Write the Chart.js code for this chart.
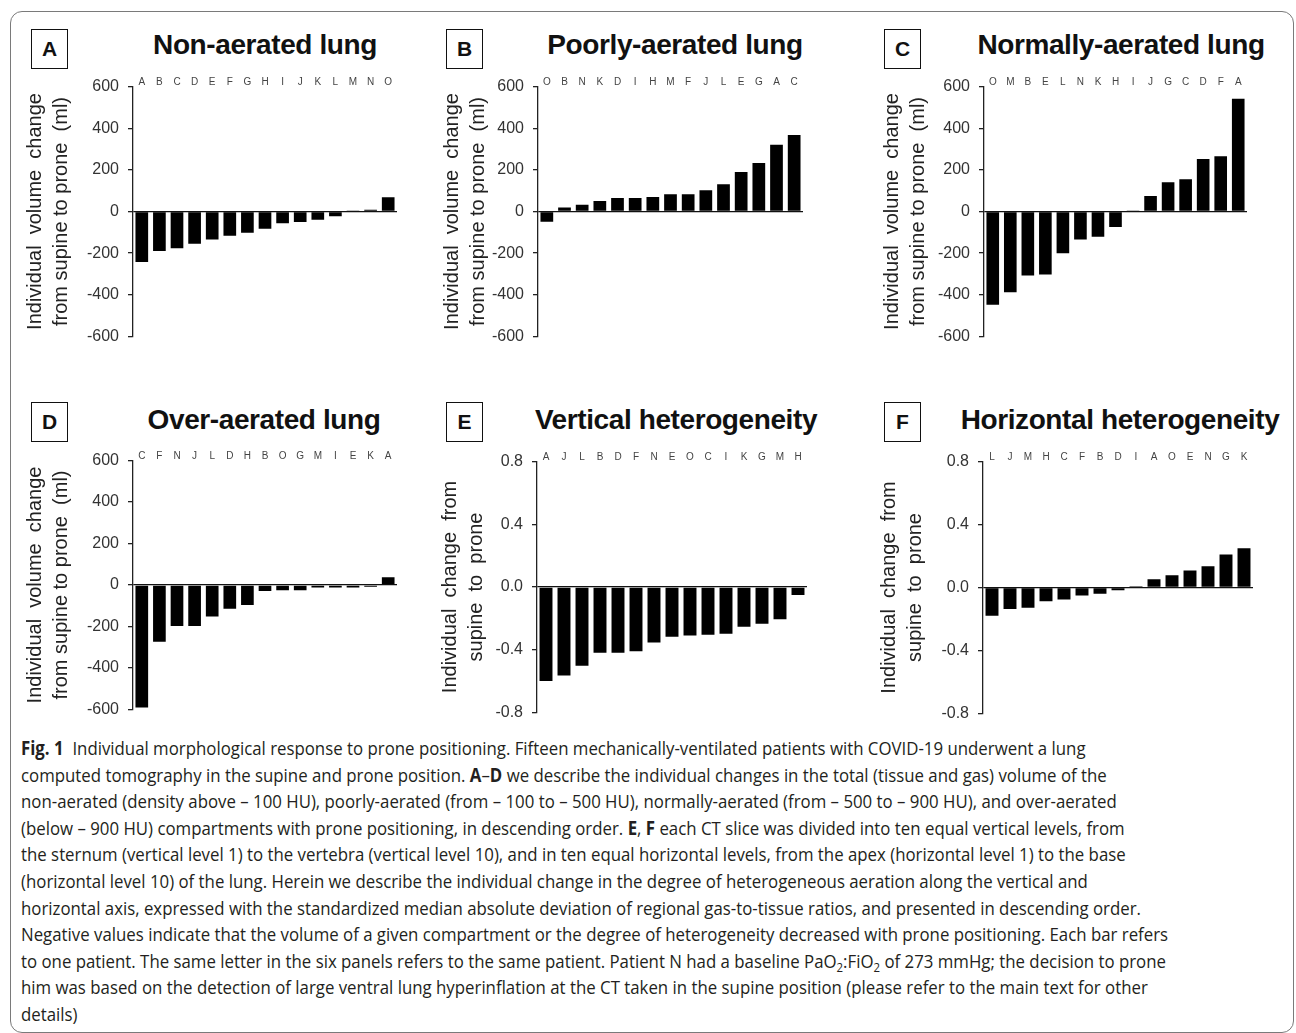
<!DOCTYPE html>
<html>
<head>
<meta charset="utf-8">
<script src="https://cdn.jsdelivr.net/npm/chart.js@4.4.1/dist/chart.umd.min.js"></script>
<style>
  body { margin: 0; background: #fff; width: 1296px; height: 1033px; overflow: hidden; position: relative;
         font-family: Arial, "Liberation Sans", sans-serif; }
  .frame { position: absolute; left: 10px; top: 11px; width: 1284px; height: 1022px;
           border: 1px solid #7a7a7a; border-radius: 12px; box-sizing: border-box; }
  .wrap { position: absolute; }
  .tag { position: absolute; width: 37px; height: 40px; border: 1.5px solid #111; box-sizing: border-box;
         font-weight: bold; font-size: 21px; display: flex; align-items: center; justify-content: center; color: #111; }
  .title { position: absolute; font-weight: bold; font-size: 28px; transform: translate(-50%, -50%);
           white-space: nowrap; letter-spacing: -0.4px; color: #111; }
  .caption { position: absolute; left: 21px; top: 735px; font-family: "Open Sans", sans-serif; font-size: 19px;
             line-height: 26.6px; color: #231f20; white-space: nowrap; transform: scaleX(0.885); transform-origin: 0 0; }
  .caption sub { font-size: 0.68em; vertical-align: -0.3em; line-height: 0; }
</style>
</head>
<body>
<div class="frame"></div>

<div class="tag" style="left:31px;top:29px">A</div>
<div class="tag" style="left:446px;top:29px">B</div>
<div class="tag" style="left:884px;top:29px">C</div>
<div class="tag" style="left:31px;top:402px">D</div>
<div class="tag" style="left:446px;top:402px">E</div>
<div class="tag" style="left:884px;top:402px">F</div>

<div class="title" style="left:265px;top:45px">Non-aerated lung</div>
<div class="title" style="left:675px;top:45px">Poorly-aerated lung</div>
<div class="title" style="left:1121px;top:45px">Normally-aerated lung</div>
<div class="title" style="left:264px;top:420px">Over-aerated lung</div>
<div class="title" style="left:676px;top:420px">Vertical heterogeneity</div>
<div class="title" style="left:1120px;top:420px">Horizontal heterogeneity</div>

<div class="wrap" id="wA"><canvas id="chartA"></canvas></div>
<div class="wrap" id="wB"><canvas id="chartB"></canvas></div>
<div class="wrap" id="wC"><canvas id="chartC"></canvas></div>
<div class="wrap" id="wD"><canvas id="chartD"></canvas></div>
<div class="wrap" id="wE"><canvas id="chartE"></canvas></div>
<div class="wrap" id="wF"><canvas id="chartF"></canvas></div>

<div class="caption">
<div><b>Fig. 1</b>&nbsp;&nbsp;Individual morphological response to prone positioning. Fifteen mechanically-ventilated patients with COVID-19 underwent a lung</div>
<div>computed tomography in the supine and prone position. <b>A</b>–<b>D</b> we describe the individual changes in the total (tissue and gas) volume of the</div>
<div>non-aerated (density above – 100 HU), poorly-aerated (from – 100 to – 500 HU), normally-aerated (from – 500 to – 900 HU), and over-aerated</div>
<div>(below – 900 HU) compartments with prone positioning, in descending order. <b>E</b>, <b>F</b> each CT slice was divided into ten equal vertical levels, from</div>
<div>the sternum (vertical level 1) to the vertebra (vertical level 10), and in ten equal horizontal levels, from the apex (horizontal level 1) to the base</div>
<div>(horizontal level 10) of the lung. Herein we describe the individual change in the degree of heterogeneous aeration along the vertical and</div>
<div>horizontal axis, expressed with the standardized median absolute deviation of regional gas-to-tissue ratios, and presented in descending order.</div>
<div>Negative values indicate that the volume of a given compartment or the degree of heterogeneity decreased with prone positioning. Each bar refers</div>
<div>to one patient. The same letter in the six panels refers to the same patient. Patient N had a baseline PaO<sub>2</sub>:FiO<sub>2</sub> of 273 mmHg; the decision to prone</div>
<div>him was based on the detection of large ventral lung hyperinflation at the CT taken in the supine position (please refer to the main text for other</div>
<div>details)</div>
</div>

<script>
// Patient order and values (ml for A-D, SMAD change for E-F)
const nonAeratedPatients = ['A', 'B', 'C', 'D', 'E', 'F', 'G', 'H', 'I', 'J', 'K', 'L', 'M', 'N', 'O'];
const nonAeratedChange = [-243, -190, -176, -155, -134, -116, -102, -83, -56, -51, -40, -23, 5, 8, 68];

const poorlyAeratedPatients = ['O', 'B', 'N', 'K', 'D', 'I', 'H', 'M', 'F', 'J', 'L', 'E', 'G', 'A', 'C'];
const poorlyAeratedChange = [-49, 19, 32, 51, 65, 65, 70, 83, 83, 102, 131, 190, 233, 321, 368];

const normallyAeratedPatients = ['O', 'M', 'B', 'E', 'L', 'N', 'K', 'H', 'I', 'J', 'G', 'C', 'D', 'F', 'A'];
const normallyAeratedChange = [-448, -388, -307, -303, -201, -134, -121, -74, 5, 74, 141, 155, 252, 266, 542];

const overAeratedPatients = ['C', 'F', 'N', 'J', 'L', 'D', 'H', 'B', 'O', 'G', 'M', 'I', 'E', 'K', 'A'];
const overAeratedChange = [-591, -274, -198, -198, -152, -115, -96, -29, -25, -25, -12, -12, -12, -8, 37];

const verticalPatients = ['A', 'J', 'L', 'B', 'D', 'F', 'N', 'E', 'O', 'C', 'I', 'K', 'G', 'M', 'H'];
const verticalChange = [-0.60, -0.565, -0.503, -0.42, -0.42, -0.41, -0.354, -0.317, -0.309, -0.305, -0.299, -0.254, -0.235, -0.205, -0.051];

const horizontalPatients = ['L', 'J', 'M', 'H', 'C', 'F', 'B', 'D', 'I', 'A', 'O', 'E', 'N', 'G', 'K'];
const horizontalChange = [-0.18, -0.137, -0.129, -0.088, -0.076, -0.051, -0.039, -0.018, 0.008, 0.053, 0.078, 0.108, 0.135, 0.209, 0.25];

const volumeTicks = [-600, -400, -200, 0, 200, 400, 600];
const heterogeneityTicks = [-0.8, -0.4, 0, 0.4, 0.8];

const volumeTitle = ['Individual  volume  change', 'from supine to prone  (ml)'];
const heterogeneityTitle = ['Individual  change  from', 'supine  to  prone'];

Chart.defaults.font.family = 'Arial, "Liberation Sans", sans-serif';

const TOP_AXIS = 16;
const BOTTOM_PAD = 12;

function makePanel(id, box, letters, values, ticks, title, fmt) {
    // box: plot area edges on the page plus where the axis title starts
    const wrap = document.getElementById('w' + id);
    wrap.style.left = box.titleLeft + 'px';
    wrap.style.top = (box.top - TOP_AXIS) + 'px';
    wrap.style.width = (box.right - box.titleLeft) + 'px';
    wrap.style.height = (box.bottom - box.top + TOP_AXIS + BOTTOM_PAD) + 'px';

    new Chart(document.getElementById('chart' + id), {
        type: 'bar',
        data: {
            labels: letters,
            datasets: [{
                data: values,
                backgroundColor: '#000',
                borderWidth: 0,
                barPercentage: 0.72,
                categoryPercentage: 1.0
            }]
        },
        options: {
            responsive: true,
            maintainAspectRatio: false,
            animation: false,
            layout: { padding: { top: 0, right: 0, bottom: BOTTOM_PAD, left: 0 } },
            plugins: { legend: { display: false }, tooltip: { enabled: false } },
            scales: {
                x: {
                    position: 'top',
                    grid: { display: false, drawTicks: false },
                    border: { display: false },
                    ticks: { font: { size: 10, lineHeight: 1 }, color: '#444', padding: -1, maxRotation: 0, autoSkip: false },
                    afterFit: function(scale) { scale.height = TOP_AXIS; }
                },
                y: {
                    min: ticks[0],
                    max: ticks[ticks.length - 1],
                    afterBuildTicks: function(scale) { scale.ticks = ticks.map(v => ({ value: v })); },
                    ticks: { callback: fmt, font: { size: 16 }, color: '#333', padding: 9 },
                    grid: {
                        color: ctx => (ctx.tick && ctx.tick.value === 0) ? '#111' : 'rgba(0,0,0,0)',
                        tickColor: '#222',
                        tickLength: 5,
                        lineWidth: 1.3
                    },
                    border: { display: true, color: '#222', width: 1.3 },
                    title: { display: true, text: title, font: { size: 20, lineHeight: 1.3 }, color: '#222', padding: 0 },
                    afterFit: function(scale) { scale.width = box.left - box.titleLeft; }
                }
            }
        }
    });
}

const volFmt = v => String(v);
const hetFmt = v => v.toFixed(1);

makePanel('A', { titleLeft: 22, left: 133, right: 397, top: 84, bottom: 343 },
    nonAeratedPatients, nonAeratedChange, volumeTicks, volumeTitle, volFmt);
makePanel('B', { titleLeft: 439, left: 538, right: 803, top: 84, bottom: 343 },
    poorlyAeratedPatients, poorlyAeratedChange, volumeTicks, volumeTitle, volFmt);
makePanel('C', { titleLeft: 879, left: 984, right: 1247, top: 84, bottom: 343 },
    normallyAeratedPatients, normallyAeratedChange, volumeTicks, volumeTitle, volFmt);
makePanel('D', { titleLeft: 22, left: 133, right: 397, top: 458, bottom: 716 },
    overAeratedPatients, overAeratedChange, volumeTicks, volumeTitle, volFmt);
makePanel('E', { titleLeft: 437, left: 537, right: 807, top: 459, bottom: 719 },
    verticalPatients, verticalChange, heterogeneityTicks, heterogeneityTitle, hetFmt);
makePanel('F', { titleLeft: 876, left: 983, right: 1253, top: 459, bottom: 720 },
    horizontalPatients, horizontalChange, heterogeneityTicks, heterogeneityTitle, hetFmt);
</script>
</body>
</html>
